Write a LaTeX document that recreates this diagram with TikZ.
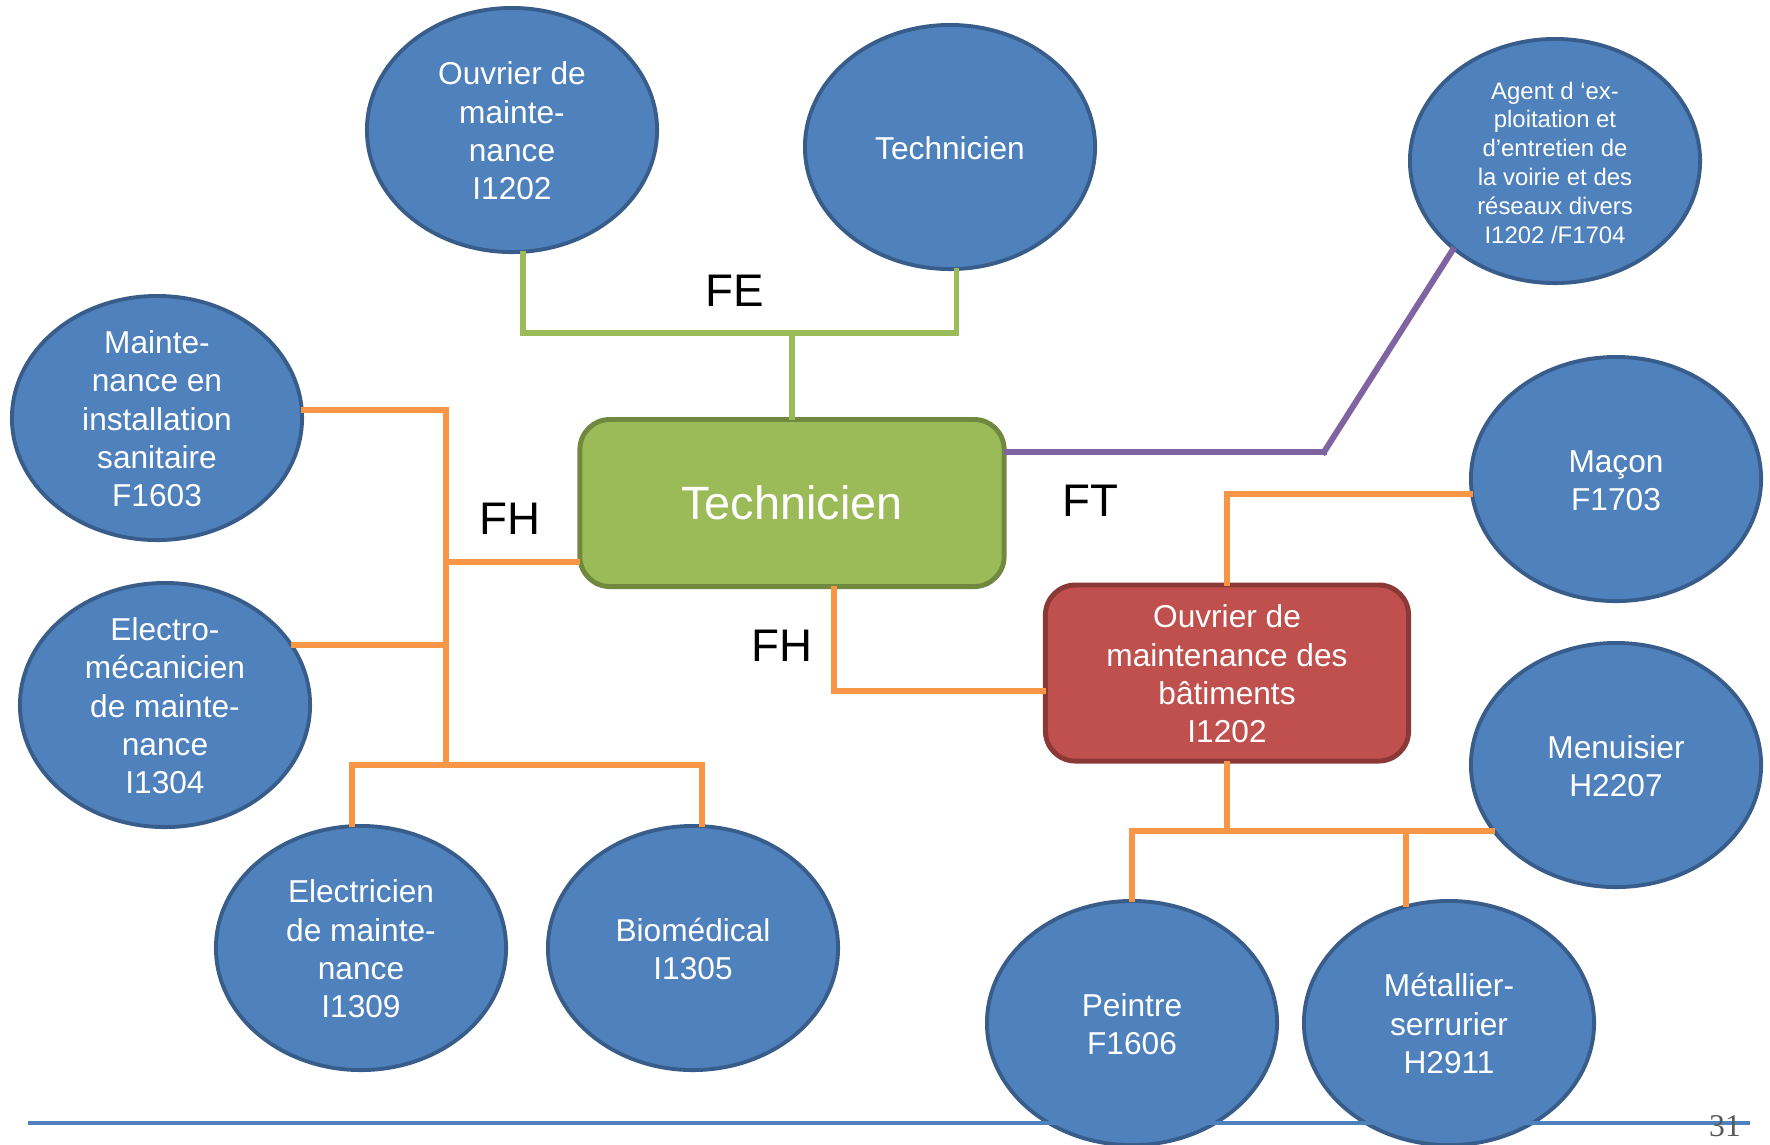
\documentclass[tikz,border=0pt]{standalone}
\usepackage{fontspec}
\setmainfont{Liberation Sans}
\newfontfamily\slidenumfont{Liberation Serif}
\usetikzlibrary{shapes.geometric}
\definecolor{blobblue}{HTML}{4F81BD}
\definecolor{blobedge}{HTML}{385D8A}
\definecolor{techgreen}{HTML}{9BBB59}
\definecolor{techedge}{HTML}{71893F}
\definecolor{ouvred}{HTML}{C0504D}
\definecolor{ouvredge}{HTML}{8C3836}
\definecolor{feline}{HTML}{9BBB59}
\definecolor{fhline}{HTML}{F79646}
\definecolor{ftline}{HTML}{8064A2}
\definecolor{numgray}{HTML}{595959}
\newcommand{\jobtext}[1]{\raisebox{\dimexpr-.25em-1.3pt\relax}[0pt][0pt]{\begin{tabular}{@{}c@{}}#1\end{tabular}}}

\begin{document}
\begin{tikzpicture}[x=0.01cm,y=-0.01cm]
    \useasboundingbox (0,0) rectangle (1770,1144);
    \begin{scope}[every node/.style={ellipse,draw=blobedge,fill=blobblue,line width=1.1pt,text=white,
        minimum width=2.9cm,minimum height=2.44cm,inner sep=0pt,font=\fontsize{9}{10.9}\selectfont}]
      \node (ouvrier) at (512,130) {\jobtext{Ouvrier de\\mainte-\\nance\\I1202}};
      \node (techtop) at (950,147) {\jobtext{Technicien}};
      \node[font=\fontsize{6.8}{8.2}\selectfont] (agent) at (1555,161)
        {\jobtext{Agent d ‘ex-\\ploitation et\\d’entretien de\\la voirie et des\\réseaux divers\\I1202 /F1704}};
      \node (sanit) at (157,418) {\jobtext{Mainte-\\nance en\\installation\\sanitaire\\F1603}};
      \node (elmec) at (165,705) {\jobtext{Electro-\\mécanicien\\de mainte-\\nance\\I1304}};
      \node (elec) at (361,948) {\jobtext{Electricien\\de mainte-\\nance\\I1309}};
      \node (biomed) at (693,948) {\jobtext{Biomédical\\I1305}};
      \node (macon) at (1616,479) {\jobtext{Maçon\\F1703}};
      \node (menuis) at (1616,765) {\jobtext{Menuisier\\H2207}};
      \node (peintre) at (1132,1023) {\jobtext{Peintre\\F1606}};
      \node (metal) at (1449,1023) {\jobtext{Métallier-\\serrurier\\H2911}};
    \end{scope}
    \begin{scope}[every node/.style={draw,rounded corners=0.3cm,line width=1.4pt,text=white,inner sep=0pt}]
      \node[fill=techgreen,draw=techedge,minimum width=4.24cm,minimum height=1.67cm,
        font=\fontsize{13.3}{16}\selectfont] (tech) at (792,503) {Technicien};
      \node[fill=ouvred,draw=ouvredge,minimum width=3.63cm,minimum height=1.76cm,
        font=\fontsize{9}{10.9}\selectfont] (maint) at (1227,673)
        {\jobtext{Ouvrier de\\maintenance des\\bâtiments\\I1202}};
    \end{scope}
    % FE
    \begin{scope}[every edge/.style={draw=feline,line width=1.7pt,line cap=rect}]
      \coordinate (fejoin) at (792,333);
      \path (ouvrier.-85) edge (ouvrier.-85 |- fejoin);
      \path (ouvrier.-85 |- fejoin) edge (techtop.-87 |- fejoin);
      \path (techtop.-87) edge (techtop.-87 |- fejoin);
      \path (fejoin) edge (tech.north);
    \end{scope}
    % FT
    \begin{scope}[every edge/.style={draw=ftline,line width=1.7pt,line cap=rect}]
      \coordinate (ftbend) at (1324,452);
      \path (tech.east |- ftbend) edge (ftbend);
      \path (ftbend) edge (agent.221);
    \end{scope}
    % FH
    \begin{scope}[every edge/.style={draw=fhline,line width=1.7pt,line cap=rect}]
      \coordinate (fhtrunk) at (446,765);
      \coordinate (fhmid) at (446,562);
      \coordinate (fhlow) at (834,691);
      \path (sanit.3) edge (sanit.3 -| fhtrunk);
      \path (sanit.3 -| fhtrunk) edge (fhtrunk);
      \path (elmec.25) edge (elmec.25 -| fhtrunk);
      \path (fhmid) edge (fhmid -| tech.west);
      \path (elec.94 |- fhtrunk) edge (biomed.86 |- fhtrunk);
      \path (elec.94 |- fhtrunk) edge (elec.94);
      \path (biomed.86 |- fhtrunk) edge (biomed.86);
      \path (tech.south -| fhlow) edge (fhlow);
      \path (fhlow) edge (fhlow -| maint.west);
      \path (macon.186) edge (macon.186 -| maint.north);
      \path (macon.186 -| maint.north) edge (maint.north);
      \path (maint.south) edge (maint.south |- menuis.208);
      \path (peintre.north |- menuis.208) edge (menuis.208);
      \path (peintre.north) edge (peintre.north |- menuis.208);
      \path (metal.110) edge (metal.110 |- menuis.208);
    \end{scope}
    \begin{scope}[every node/.style={font=\fontsize{13}{15.6}\selectfont}]
      \node (felabel) at (735,291) {FE};
      \node (fhleft) at (510,519) {FH};
      \node (ftlabel) at (1090,501) {FT};
      \node (fhlower) at (782,646) {FH};
    \end{scope}
    \draw[blobblue,line width=1.15pt] (28,1123) -- (1750,1123);
    \node[text=numgray,font=\slidenumfont\fontsize{9}{10.8}\selectfont] (slidenum) at (1725,1126) {31};
  \end{tikzpicture}
\end{document}
